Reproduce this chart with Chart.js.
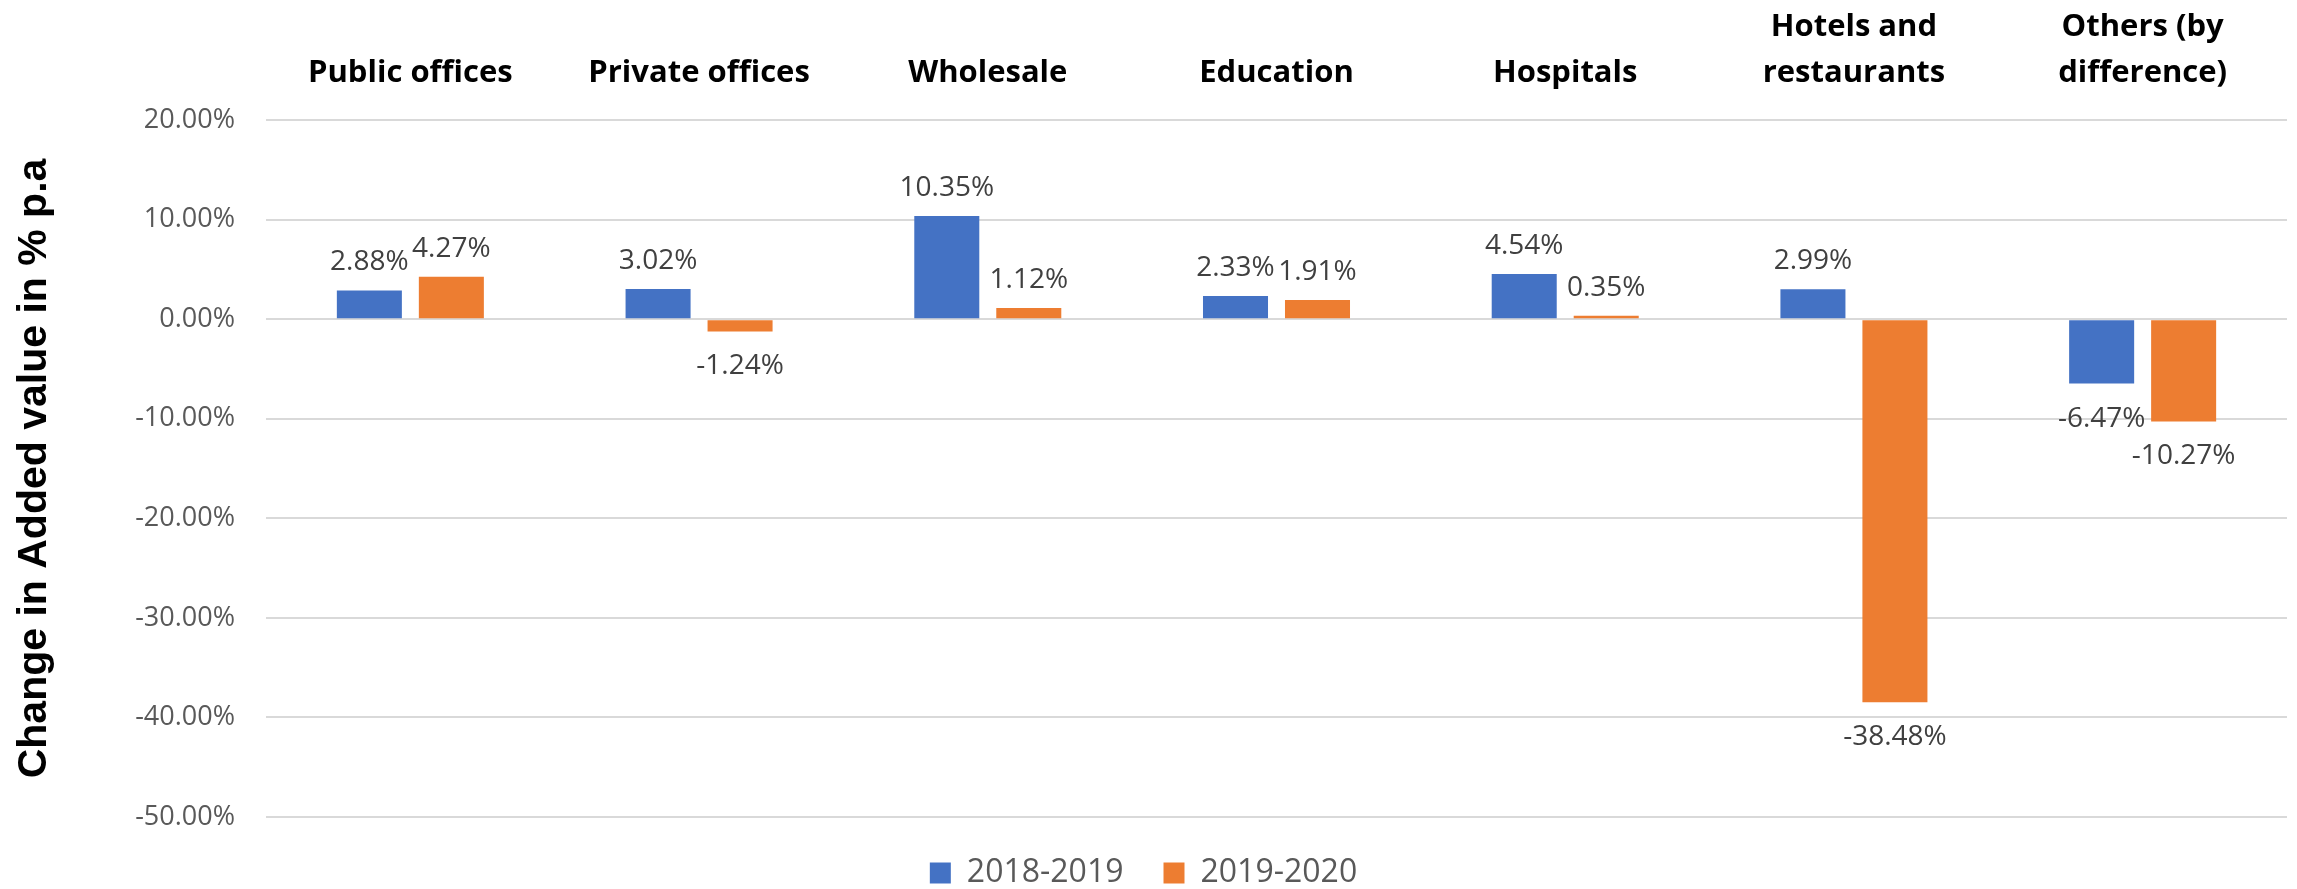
<!DOCTYPE html>
<html>
<head>
<meta charset="utf-8">
<title>Change in Added value</title>
<script src="https://cdn.jsdelivr.net/npm/chart.js@4/dist/chart.umd.min.js"></script>
<style>
  body { margin: 0; background: #fff; }
  #wrap { width: 2297px; height: 889px; }
</style>
</head>
<body>
<div id="wrap"><canvas id="myChart" width="2297" height="889"></canvas></div>
<script>
const sectores = ['Public offices', 'Private offices', 'Wholesale', 'Education', 'Hospitals',
    ['Hotels and', 'restaurants'], ['Others (by', 'difference)']];
const periodos = ['2018-2019', '2019-2020'];
const valores1819 = [2.88, 3.02, 10.35, 2.33, 4.54, 2.99, -6.47];
const valores1920 = [4.27, -1.24, 1.12, 1.91, 0.35, -38.48, -10.27];
const ticksY = [20, 10, 0, -10, -20, -30, -40, -50];

const gris = '#d9d9d9';

// etiquetas de valor encima / debajo de cada barra
const etiquetas = {
    id: 'etiquetas',
    afterDatasetsDraw(chart) {
        const ctx = chart.ctx;
        ctx.save();
        ctx.font = '28px "Open Sans"';
        ctx.fillStyle = '#404040';
        ctx.textAlign = 'center';
        ctx.textBaseline = 'alphabetic';
        chart.data.datasets.forEach((ds, i) => {
            chart.getDatasetMeta(i).data.forEach((bar, j) => {
                const v = ds.data[j];
                const y = v >= 0 ? bar.y - 20 : bar.y + 43;
                ctx.fillText(v.toFixed(2) + '%', bar.x, y);
            });
        });
        ctx.restore();
    }
};

const ctx = document.getElementById('myChart').getContext('2d');
const myChart = new Chart(ctx, {
    type: 'bar',
    data: {
        labels: sectores,
        datasets: [{
            label: periodos[0],
            data: valores1819,
            backgroundColor: '#4472C4',
            borderWidth: 0
        }, {
            label: periodos[1],
            data: valores1920,
            backgroundColor: '#ED7D31',
            borderWidth: 0
        }]
    },
    options: {
        responsive: false,
        animation: false,
        layout: { padding: { left: 0, right: 10, top: 0, bottom: 0 } },
        categoryPercentage: 0.568,
        barPercentage: 0.793,
        plugins: {
            tooltip: { enabled: false },
            legend: {
                position: 'bottom',
                maxHeight: 72,
                labels: {
                    boxWidth: 21,
                    boxHeight: 21,
                    padding: 40,
                    color: '#595959',
                    font: { family: 'Open Sans', size: 32 }
                }
            }
        },
        scales: {
            x: {
                position: 'top',
                grid: { display: false, drawTicks: false },
                border: { display: false },
                ticks: {
                    padding: 24,
                    color: '#000',
                    maxRotation: 0,
                    autoSkip: false,
                    font: { family: 'Open Sans', size: 31, weight: 'bold', lineHeight: 1.48 }
                },
                afterFit: (scale) => { scale.height = 120; }
            },
            y: {
                min: ticksY[ticksY.length - 1],
                max: ticksY[0],
                afterBuildTicks: (scale) => {
                    scale.ticks = ticksY.map(v => ({ value: v }));
                },
                grid: { color: gris, lineWidth: 2, drawTicks: false },
                border: { display: false },
                ticks: {
                    padding: 31,
                    color: '#595959',
                    font: { family: 'Open Sans', size: 27 },
                    callback: (v) => v.toFixed(2) + '%'
                },
                title: {
                    display: true,
                    text: 'Change in Added value in % p.a',
                    color: '#000',
                    padding: { top: 10, bottom: 0 },
                    font: { family: 'Liberation Sans', size: 41, weight: 'bold' }
                },
                afterFit: (scale) => { scale.width = 266; }
            }
        }
    },
    plugins: [etiquetas]
});
</script>
</body>
</html>
